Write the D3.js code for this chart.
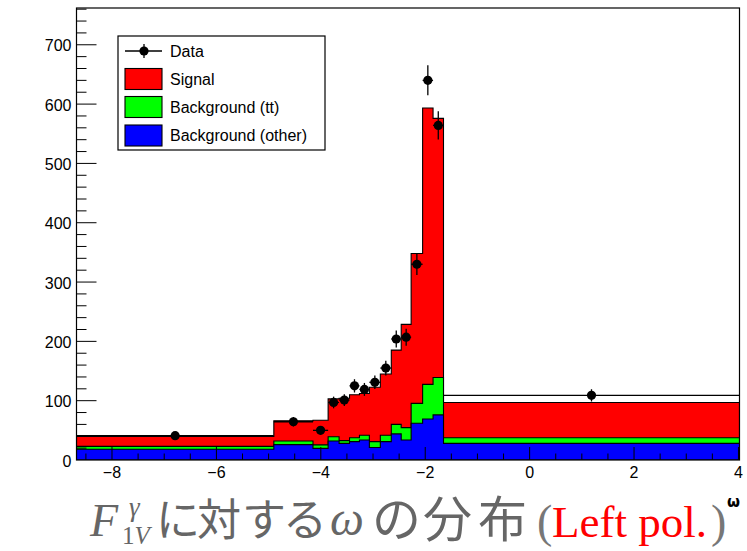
<!DOCTYPE html>
<html>
<head>
<meta charset="utf-8">
<script src="https://cdn.jsdelivr.net/npm/d3@7"></script>
<style>
  html, body { margin: 0; padding: 0; background: #fff; }
  svg { display: block; }
</style>
</head>
<body>
<svg id="chart" width="747" height="551"></svg>
<script>
// ---- data ----
const binEdges = [-8.68, -4.9, -4.15, -3.86, -3.65, -3.45, -3.26, -3.07, -2.86, -2.65, -2.46, -2.27, -2.05, -1.85, -1.65, 4.02];
const bgOther  = [18, 26, 19.6, 32, 28, 31, 33.7, 21, 31, 44, 33.7, 62, 69, 76, 28];
const bgTT     = [5, 6, 5.9, 7.3, 4.6, 6.6, 7.9, 10, 10.6, 16, 20.8, 33.5, 58.5, 63, 9.6];
const signal   = [16.5, 34, 41.5, 63.7, 71.4, 72.4, 70.4, 91.6, 103.4, 125.3, 174.1, 252.5, 466, 437, 59.4];
const dataVals = [41, 64.5, 50, 97, 101, 125, 119, 131, 155, 204, 207, 330, 640, 564, 109];
const yTicks = [0, 100, 200, 300, 400, 500, 600, 700];
const xTicks = [-8, -6, -4, -2, 0, 2, 4];
const legendLabels = ["Data", "Signal", "Background (tt)", "Background (other)"];
const legendColors = [null, "#ff0000", "#00ff00", "#0000ff"];

// ---- layout ----
const svg = d3.select("#chart");
const X0 = 76.5, X1 = 739.5, Y0 = 8, Y1 = 460;
const x = d3.scaleLinear().domain([-8.68, 4.02]).range([X0, X1]);
const y = d3.scaleLinear().domain([0, 762]).range([Y1, Y0]);

svg.append("rect").attr("width", 747).attr("height", 551).attr("fill", "#fff");

// cumulative stacks
const nb = signal.length;
const cumBlue = bgOther.slice();
const cumGreen = bgOther.map((v, i) => v + bgTT[i]);
const cumRed = cumGreen.map((v, i) => v + signal[i]);

function histPath(vals) {
  let p = d3.path();
  p.moveTo(x(binEdges[0]), y(0));
  for (let i = 0; i < nb; i++) {
    p.lineTo(x(binEdges[i]), y(vals[i]));
    p.lineTo(x(binEdges[i + 1]), y(vals[i]));
  }
  p.lineTo(x(binEdges[nb]), y(0));
  p.closePath();
  return p.toString();
}

const plot = svg.append("g");
const clip = svg.append("clipPath").attr("id", "clp");
clip.append("rect").attr("x", X0).attr("y", Y0).attr("width", X1 - X0).attr("height", Y1 - Y0);
plot.attr("clip-path", "url(#clp)");

[[cumRed, "#ff0000"], [cumGreen, "#00ff00"], [cumBlue, "#0000ff"]].forEach(([vals, col]) => {
  plot.append("path").attr("d", histPath(vals))
    .attr("fill", col).attr("stroke", "#000").attr("stroke-width", 1.1);
});

// ---- data points ----
const pts = dataVals.map((v, i) => ({
  x0: binEdges[i], x1: binEdges[i + 1], xc: (binEdges[i] + binEdges[i + 1]) / 2, v, e: Math.sqrt(v)
}));
const dg = plot.append("g");
dg.selectAll("line.h").data(pts).join("line")
  .attr("x1", d => x(d.x0)).attr("x2", d => x(d.x1))
  .attr("y1", d => y(d.v)).attr("y2", d => y(d.v))
  .attr("stroke", "#000").attr("stroke-width", 1.3);
dg.selectAll("line.v").data(pts).join("line")
  .attr("x1", d => x(d.xc)).attr("x2", d => x(d.xc))
  .attr("y1", d => y(d.v - d.e)).attr("y2", d => y(d.v + d.e))
  .attr("stroke", "#000").attr("stroke-width", 1.3);
dg.selectAll("circle").data(pts).join("circle")
  .attr("cx", d => x(d.xc)).attr("cy", d => y(d.v)).attr("r", 4.6).attr("fill", "#000");

// ---- axes (ROOT style, ticks inside) ----
const ax = svg.append("g").attr("stroke", "#000").attr("stroke-width", 1);
d3.range(-8.5, 4.01, 0.5).forEach(t => {
  const major = Math.abs(t % 2) < 1e-9;
  ax.append("line").attr("x1", x(t)).attr("x2", x(t)).attr("y1", Y1).attr("y2", Y1 - (major ? 13 : 6.5));
});
d3.range(20, 761, 20).forEach(t => {
  const major = t % 100 === 0;
  ax.append("line").attr("x1", X0).attr("x2", X0 + (major ? 20 : 10)).attr("y1", y(t)).attr("y2", y(t));
});
svg.append("rect").attr("x", X0).attr("y", Y0).attr("width", X1 - X0).attr("height", Y1 - Y0)
  .attr("fill", "none").attr("stroke", "#000").attr("stroke-width", 1.2);

const fmt = v => (v < 0 ? "\u2212" + Math.abs(v) : String(v));
svg.append("g").selectAll("text").data(xTicks).join("text")
  .attr("x", d => x(d)).attr("y", 478).attr("text-anchor", "middle")
  .attr("font-family", "Liberation Sans, Arial, sans-serif").attr("font-size", 16)
  .attr("fill", "#000").text(fmt);
svg.append("g").selectAll("text").data(yTicks).join("text")
  .attr("x", 71.5).attr("y", d => y(d) + 6.5).attr("text-anchor", "end")
  .attr("font-family", "Liberation Sans, Arial, sans-serif").attr("font-size", 16)
  .attr("fill", "#000").text(d => d);

// x-axis title
svg.append("text").attr("x", 740).attr("y", 507).attr("text-anchor", "end")
  .attr("font-family", "DejaVu Sans, sans-serif").attr("font-size", 15).attr("font-weight", "bold")
  .attr("fill", "#000").text("ω");

// ---- legend ----
const lg = svg.append("g");
lg.append("rect").attr("x", 118).attr("y", 36).attr("width", 207).attr("height", 114)
  .attr("fill", "#fff").attr("stroke", "#000").attr("stroke-width", 1.2);
const rowY = [51, 79, 107, 135.5];
legendLabels.forEach((lab, i) => {
  const cy = rowY[i];
  if (i === 0) {
    lg.append("line").attr("x1", 125).attr("x2", 162).attr("y1", cy).attr("y2", cy).attr("stroke", "#000").attr("stroke-width", 1.3);
    lg.append("line").attr("x1", 144).attr("x2", 144).attr("y1", cy - 7).attr("y2", cy + 7).attr("stroke", "#000").attr("stroke-width", 1.3);
    lg.append("circle").attr("cx", 144).attr("cy", cy).attr("r", 4.6).attr("fill", "#000");
  } else {
    lg.append("rect").attr("x", 125).attr("y", cy - 10.5).attr("width", 37).attr("height", 21)
      .attr("fill", legendColors[i]).attr("stroke", "#000").attr("stroke-width", 1.1);
  }
  lg.append("text").attr("x", 170).attr("y", cy + 5.5)
    .attr("font-family", "Liberation Sans, Arial, sans-serif").attr("font-size", 16)
    .attr("fill", "#000").text(lab);
});

// ---- caption ----
const cap = svg.append("g").attr("fill", "#666");
const serif = "Liberation Serif, DejaVu Serif, serif";
const cjk = "Noto Sans CJK JP, sans-serif";
cap.append("text").attr("x", 90).attr("y", 536).attr("font-family", serif).attr("font-style", "italic")
  .attr("font-size", 46).text("F");
cap.append("text").attr("x", 129).attr("y", 516).attr("font-family", serif).attr("font-style", "italic")
  .attr("font-size", 27).text("γ");
const sub = cap.append("text").attr("x", 122).attr("y", 544).attr("font-family", serif).attr("font-size", 25);
sub.append("tspan").text("1");
sub.append("tspan").attr("font-style", "italic").text("V");
const jp1 = ["に", "対", "す", "る"], jp1x = [156, 197, 242, 283];
jp1.forEach((c, i) => cap.append("text").attr("x", jp1x[i]).attr("y", 536)
  .attr("font-family", cjk).attr("font-size", 44).text(c));
cap.append("text").attr("x", 330).attr("y", 535).attr("font-family", serif).attr("font-style", "italic")
  .attr("font-size", 48).text("ω");
const jp2 = ["の", "分", "布"], jp2x = [372, 423, 478];
jp2.forEach((c, i) => cap.append("text").attr("x", jp2x[i]).attr("y", 537)
  .attr("font-family", cjk).attr("font-size", 49).text(c));
cap.append("text").attr("x", 537).attr("y", 537).attr("font-family", serif).attr("font-size", 46)
  .attr("fill", "#777").text("(");
cap.append("text").attr("x", 552).attr("y", 537).attr("font-family", serif).attr("font-size", 45)
  .attr("fill", "#ff0000").text("Left pol.");
cap.append("text").attr("x", 711).attr("y", 537).attr("font-family", serif).attr("font-size", 46)
  .attr("fill", "#777").text(")");
</script>
</body>
</html>
